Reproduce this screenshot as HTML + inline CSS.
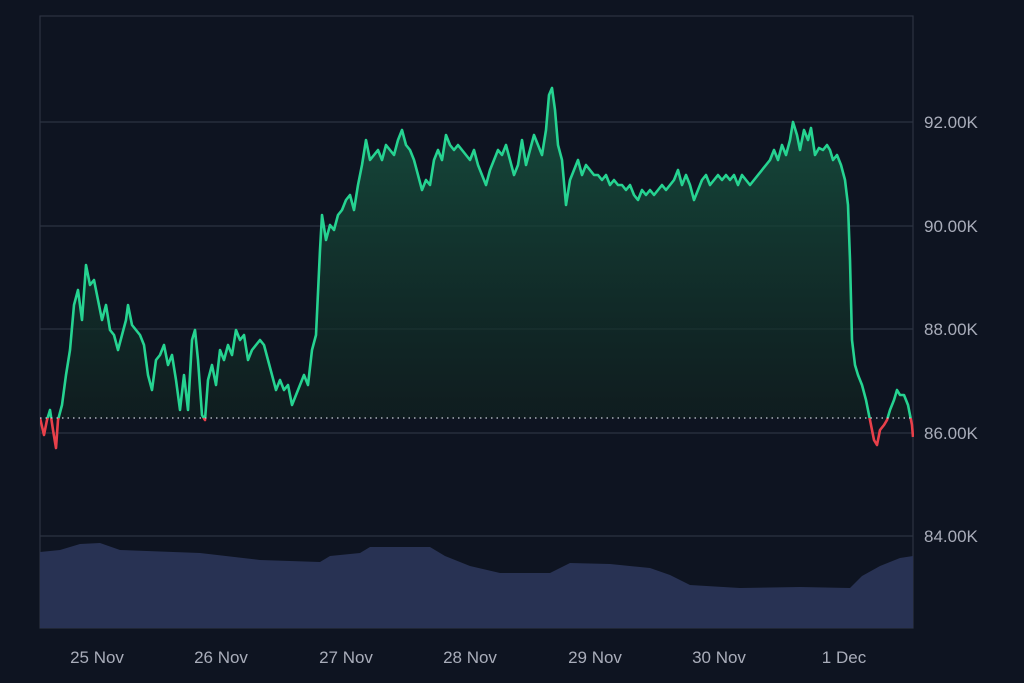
<!DOCTYPE html>
<html><head><style>
html,body{margin:0;padding:0;background:#0e1421;}
svg{display:block;}
text{font-family:"Liberation Sans",sans-serif;font-size:17px;fill:#a9adba;}
</style></head><body>
<svg width="1024" height="683" viewBox="0 0 1024 683">
<defs>
<linearGradient id="g" x1="0" y1="80" x2="0" y2="418" gradientUnits="userSpaceOnUse">
<stop offset="0" stop-color="#175a45" stop-opacity="0.85"/>
<stop offset="1" stop-color="#10221e" stop-opacity="0.6"/>
</linearGradient>
<clipPath id="above"><rect x="40" y="0" width="874" height="418"/></clipPath>
<clipPath id="below"><rect x="40" y="418" width="874" height="200"/></clipPath>
</defs>
<rect width="1024" height="683" fill="#0e1421"/>
<g stroke="#2c3342" stroke-width="1.2" fill="none">
<line x1="40" y1="122" x2="913" y2="122"/>
<line x1="40" y1="226" x2="913" y2="226"/>
<line x1="40" y1="329" x2="913" y2="329"/>
<line x1="40" y1="433" x2="913" y2="433"/>
<line x1="40" y1="536" x2="913" y2="536"/>
<rect x="40" y="16" width="873" height="612"/>
</g>
<path fill="#283253" d="M40,628 L40,552 L60,550 L80,544 L100,543 L120,550 L200,553 L260,560 L320,562 L330,556 L360,553 L370,547 L430,547 L445,556 L470,566 L500,573 L550,573 L570,563 L610,564 L650,568 L670,575 L690,585 L740,588 L800,587 L850,588 L862,576 L880,566 L900,558 L913,556 L913,628 Z"/>
<g id="chart"></g>
<line x1="40" y1="418" x2="913" y2="418" stroke="#c8ccd6" stroke-width="1.2" stroke-dasharray="1.5,4"/>
<text x="924" y="128">92.00K</text>
<text x="924" y="232">90.00K</text>
<text x="924" y="335">88.00K</text>
<text x="924" y="439">86.00K</text>
<text x="924" y="542">84.00K</text>
<g text-anchor="middle">
<text x="97" y="663">25 Nov</text>
<text x="221" y="663">26 Nov</text>
<text x="346" y="663">27 Nov</text>
<text x="470" y="663">28 Nov</text>
<text x="595" y="663">29 Nov</text>
<text x="719" y="663">30 Nov</text>
<text x="844" y="663">1 Dec</text>
</g>
</svg>
<script>
var P="40,418 44,435 47,420 50,410 53,430 56,448 58,420 62,405 66,375 70,350 74,305 78,290 82,320 86,265 90,285 94,280 98,300 102,320 106,305 110,330 114,335 118,350 122,335 126,320 128,305 132,325 136,330 140,335 144,345 148,375 152,390 156,360 160,355 164,345 168,365 172,355 176,380 180,410 184,375 188,410 192,340 195,330 198,360 202,415 205,420 208,380 212,365 216,385 220,350 224,360 228,345 232,355 236,330 240,340 244,335 248,360 252,350 256,345 260,340 264,345 268,360 272,375 276,390 280,380 284,390 288,385 292,405 296,395 300,385 304,375 308,385 312,350 316,335 320,250 322,215 326,240 330,225 334,230 338,215 342,210 346,200 350,195 354,210 358,185 362,165 366,140 370,160 374,155 378,150 382,160 386,145 390,150 394,155 398,140 402,130 406,145 410,150 414,160 418,175 422,190 426,180 430,185 434,160 438,150 442,160 446,135 450,145 454,150 458,145 462,150 466,155 470,160 474,150 478,165 482,175 486,185 490,170 494,160 498,150 502,155 506,145 510,160 514,175 518,165 522,140 526,165 530,150 534,135 538,145 542,155 546,130 549,95 552,88 555,110 558,145 562,160 566,205 570,180 574,170 578,160 582,175 586,165 590,170 594,175 598,175 602,180 606,175 610,185 614,180 618,185 622,185 626,190 630,185 634,195 638,200 642,190 646,195 650,190 654,195 658,190 662,185 666,190 670,185 674,180 678,170 682,185 686,175 690,185 694,200 698,190 702,180 706,175 710,185 714,180 718,175 722,180 726,175 730,180 734,175 738,185 742,175 746,180 750,185 754,180 758,175 762,170 766,165 770,160 774,150 778,160 782,145 786,155 790,140 793,122 797,135 800,150 804,130 808,140 811,128 815,155 819,148 823,150 827,145 830,150 833,160 837,155 841,165 845,180 848,205 850,260 852,340 855,365 858,375 862,385 866,400 870,420 874,440 877,445 880,430 884,425 887,420 890,410 894,400 897,390 900,395 904,395 908,405 912,425 913,437";
var ns="http://www.w3.org/2000/svg",g=document.getElementById("chart");
function el(t,a){var e=document.createElementNS(ns,t);for(var k in a)e.setAttribute(k,a[k]);g.appendChild(e);return e;}
el("polygon",{points:P+" 913,418 40,418",fill:"url(#g)","clip-path":"url(#above)"});
el("polyline",{points:P,fill:"none",stroke:"#26d391","stroke-width":"2.6","stroke-linejoin":"round","clip-path":"url(#above)"});
el("polyline",{points:P,fill:"none",stroke:"#e8404a","stroke-width":"2.6","stroke-linejoin":"round","clip-path":"url(#below)"});
</script>
</body></html>
